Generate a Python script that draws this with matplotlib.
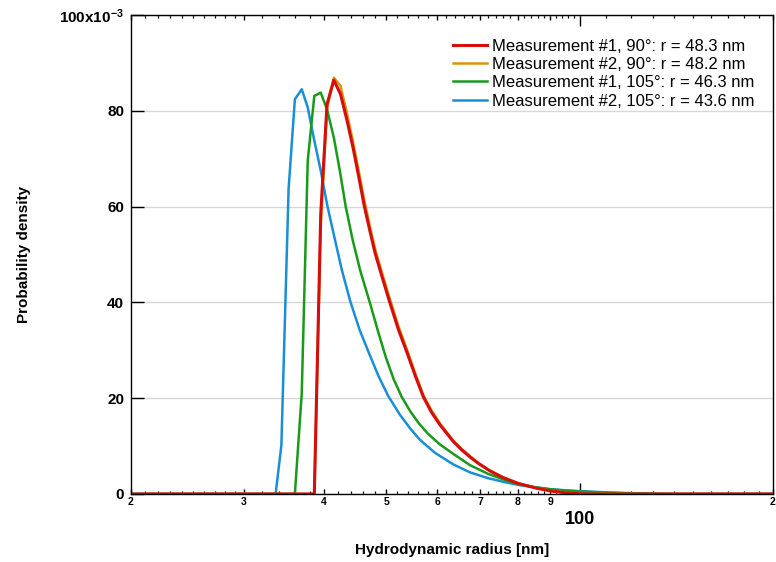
import numpy as np
import matplotlib.pyplot as plt
from matplotlib.ticker import FixedLocator, NullFormatter
from matplotlib.transforms import blended_transform_factory

plt.rcParams['font.family'] = ['Liberation Sans', 'DejaVu Sans']
plt.rcParams['mathtext.fontset'] = 'custom'
plt.rcParams['mathtext.rm'] = 'Liberation Sans:bold'
plt.rcParams['mathtext.it'] = 'Liberation Sans:bold'
plt.rcParams['mathtext.bf'] = 'Liberation Sans:bold'

# radius [nm] and probability density (x1e-3)
r_m1_90 = [20, 38.6, 39.5, 40.4, 41.4, 42.4, 43.4, 44.4, 45.3, 46.2, 47.1, 48.0,
           49.3, 50.6, 52.2, 53.9, 55.5, 57.1, 58.8, 60.6, 63.5, 65.5, 67.5,
           69.5, 72.5, 76.0, 80.2, 85.7, 90.0, 94.3, 100, 105, 200]
p_m1_90 = [0, 0, 58.5, 81.4, 86.4, 83.5, 78.0, 72.0, 66.0, 60.0, 55.0, 50.3,
           45.0, 40.0, 34.3, 29.3, 24.5, 20.2, 17.0, 14.4, 11.0, 9.2, 7.7,
           6.4, 4.8, 3.4, 2.2, 1.2, 0.65, 0.3, 0.05, 0, 0]

r_m2_90 = [20, 38.6, 39.5, 40.4, 41.4, 42.4, 43.4, 44.4, 45.3, 46.2, 47.1, 48.0,
           49.3, 50.6, 52.2, 53.9, 55.5, 57.1, 58.8, 60.6, 63.5, 65.5, 67.5,
           69.5, 72.5, 76.0, 80.2, 85.7, 90.0, 94.3, 100, 105, 200]
p_m2_90 = [0, 0, 56.0, 80.5, 86.9, 85.2, 79.5, 73.2, 67.2, 61.2, 56.0, 51.2,
           45.8, 40.8, 35.0, 29.9, 25.0, 20.6, 17.4, 14.7, 11.2, 9.4, 7.9,
           6.5, 4.9, 3.5, 2.25, 1.25, 0.7, 0.35, 0.08, 0, 0]

r_m1_105 = [20, 36.0, 36.9, 37.7, 38.6, 39.5, 40.4, 41.4, 42.3, 43.2, 44.3, 45.5,
            47.1, 48.5, 49.9, 51.3, 52.8, 54.5, 56.2, 58.0, 60.5, 63.5, 67.5,
            72.0, 76.0, 80.2, 85.0, 89.9, 95.0, 100, 110, 125, 140, 200]
p_m1_105 = [0, 0, 21.0, 69.6, 83.1, 83.8, 80.3, 74.4, 67.5, 60.0, 53.0, 46.7,
            40.0, 34.0, 28.5, 24.0, 20.3, 17.2, 14.7, 12.6, 10.4, 8.4, 6.0,
            4.2, 3.05, 2.05, 1.45, 1.0, 0.7, 0.5, 0.25, 0.06, 0, 0]

r_m2_105 = [20, 33.6, 34.3, 35.2, 36.0, 36.9, 37.7, 38.5, 39.5, 40.4, 41.5, 42.6,
            43.9, 45.4, 47.1, 48.6, 50.3, 52.5, 54.5, 56.4, 59.5, 63.5, 67.5,
            72.0, 76.0, 80.2, 85.0, 89.9, 95.0, 100, 110, 120, 131, 140, 200]
p_m2_105 = [0, 0, 10.2, 63.7, 82.4, 84.5, 80.7, 74.5, 67.5, 60.5, 53.5, 46.8,
            40.3, 34.3, 29.0, 24.6, 20.5, 16.5, 13.6, 11.3, 8.6, 6.2, 4.5,
            3.3, 2.55, 1.9, 1.4, 1.0, 0.78, 0.6, 0.35, 0.18, 0.06, 0, 0]

labels = ['Measurement #1, 90°: r = 48.3 nm',
          'Measurement #2, 90°: r = 48.2 nm',
          'Measurement #1, 105°: r = 46.3 nm',
          'Measurement #2, 105°: r = 43.6 nm']
colors = ['#d40d0d', '#e0920a', '#189b18', '#1a8fd6']

fig = plt.figure(figsize=(7.76, 5.62), dpi=100)
ax = fig.add_axes([0.1688, 0.121, 0.8273, 0.8523])

l4, = ax.plot(r_m2_105, np.array(p_m2_105) * 1e-3, color=colors[3], lw=1.8)
l3, = ax.plot(r_m1_105, np.array(p_m1_105) * 1e-3, color=colors[2], lw=1.8)
l2, = ax.plot(r_m2_90, np.array(p_m2_90) * 1e-3, color=colors[1], lw=1.8)
l1, = ax.plot(r_m1_90, np.array(p_m1_90) * 1e-3, color=colors[0], lw=2.2)

ax.set_xscale('log')
ax.set_xlim(20, 200)
ax.set_ylim(0, 0.1)

# x ticks
major = [20, 30, 40, 50, 60, 70, 80, 90, 100, 200]
ax.xaxis.set_major_locator(FixedLocator(major))
ax.set_xticklabels(['2', '3', '4', '5', '6', '7', '8', '9', '', '2'],
                   fontsize=7.5, fontweight='bold')
minor = list(range(21, 30)) + [v for v in range(32, 100, 2) if v % 10] + list(range(110, 200, 10))
ax.xaxis.set_minor_locator(FixedLocator(minor))
ax.xaxis.set_minor_formatter(NullFormatter())
ax.tick_params(axis='x', which='major', direction='in', length=3.8, width=1,
               top=True, pad=2)
ax.tick_params(axis='x', which='minor', direction='in', length=2.2, width=0.9,
               top=True)
t100 = ax.xaxis.get_major_ticks()[8]
t100.tick1line.set_markersize(8)
t100.tick2line.set_markersize(8)
trans = blended_transform_factory(ax.transData, ax.transAxes)
ax.text(100, -0.036, '100', transform=trans, ha='center', va='top',
        fontsize=13, fontweight='bold')

# y ticks
ax.set_yticks([0, 0.02, 0.04, 0.06, 0.08, 0.1])
ax.set_yticklabels(['0', '20', '40', '60', '80', '100x10$^{-3}$'],
                   fontsize=11, fontweight='bold')
ax.tick_params(axis='y', direction='in', length=9, width=1, pad=5)
ax.grid(axis='y', color='#d8d8d8', lw=1)
ax.set_axisbelow(True)
for s in ax.spines.values():
    s.set_linewidth(1)

ax.set_xlabel('Hydrodynamic radius [nm]', fontsize=11, fontweight='bold', labelpad=26)
ax.set_ylabel('Probability density', fontsize=11, fontweight='bold', labelpad=20)

ax.legend([l1, l2, l3, l4], labels, loc='upper right', bbox_to_anchor=(0.99, 0.975),
          frameon=False, fontsize=12, handlelength=2.0, labelspacing=0.2,
          handletextpad=0.35, borderpad=0.2)

fig.savefig('out.png', dpi=100)
